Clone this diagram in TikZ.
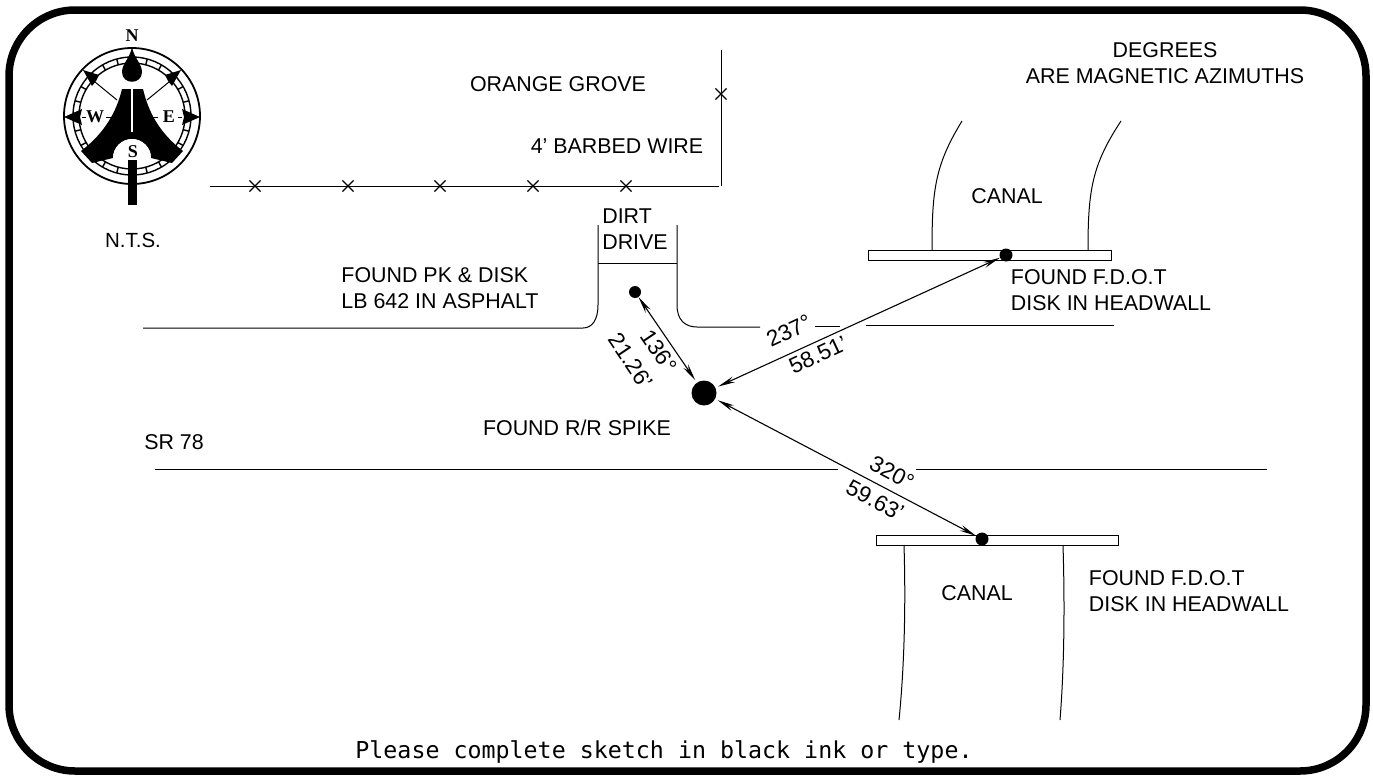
\documentclass[tikz,border=0pt]{standalone}
\usepackage{fontspec}
\setmainfont{Liberation Sans}
\setmonofont{DejaVu Sans Mono}
\newfontfamily\compassfont{Liberation Serif}
\usetikzlibrary{arrows.meta,shapes.misc}
\tikzset{
  label/.style={font=\fontsize{21.4}{25.5}\selectfont,align=left,inner sep=0pt},
  dim/.style={font=\fontsize{22.5}{26}\selectfont,inner sep=0pt},
  line/.style={line width=1pt},
  dot/.style={circle,fill=black,inner sep=0pt,minimum size=#1},
  fencex/.style={cross out,draw,line width=1.1pt,minimum size=10pt,inner sep=0pt},
  compassletter/.style={font=\compassfont\bfseries\fontsize{18}{18}\selectfont,inner sep=0pt},
  leader/.style={line width=1.1pt,{Stealth[length=17pt,width=6pt]}-{Stealth[length=17pt,width=6pt]}}
}
\begin{document}
\begin{tikzpicture}[x=1pt,y=-1pt]
    \useasboundingbox (0,0) rectangle (1373,779);
    \fill [white] (0,0) rectangle (1373,779);
    \draw [line width=7.5pt,rounded corners=66pt] (9,10) rectangle (1366,771);

    \draw [line width=1.8pt] (132,116) circle (68);
    \draw [line width=1.4pt] (132,116) circle (59);
    \draw [line width=1.4pt] (132,116) circle (53);
    \foreach \a in {0,15,...,345}
      \draw [line width=1.4pt] (132,116) ++(\a:53) -- ++(\a:6);
    \draw [line width=1pt] (95,82) -- (117,100);
    \draw [line width=1pt] (169,82) -- (147,100);
    \draw [line width=1pt] (82,117) -- (86,117) (106,117) -- (112,117);
    \draw [line width=1pt] (182,117) -- (178,117) (158,117) -- (152,117);
    \fill (64,117) -- (82,109) -- (80,117) -- (82,125) -- cycle;
    \fill (200,117) -- (182,109) -- (184,117) -- (182,125) -- cycle;
    \fill (83,70) -- (99,75) -- (96,81) -- (92,86) -- cycle;
    \fill (181,70) -- (165,75) -- (168,81) -- (172,86) -- cycle;
    \fill (132,47) .. controls (134,58) and (142,64) .. (142,72) .. controls (142,85) and (122,85) .. (122,72) .. controls (122,64) and (130,58) .. (132,47);
    \fill (122,89) -- (143,89) .. controls (148,110) and (158,132) .. (183,151) -- (172,163) -- (151,158) arc (0:-180:19) -- (92,163) -- (81,151) .. controls (106,132) and (117,110) .. (122,89);
    \fill [white] (113,158) arc (180:360:19) -- cycle;
    \draw [white,line width=1.4pt] (132,88) -- (132,132);
    \fill (128,160) rectangle (137,205);
    \node [compassletter] (n) at (132,36) {N};
    \node [compassletter] (s) at (133,152) {S};
    \node [compassletter] (w) at (95,117) {W};
    \node [compassletter] (e) at (169,117) {E};

    \draw [line] (210,186) -- (719,186);
    \draw [line] (721,186) -- (721,50);
    \foreach \x in {255,348,440,533,626}
      \node [fencex] (x\x) at (\x,186) {};
    \node [fencex] (xv) at (721,94) {};

    \draw [line] (598,225) -- (598,305) .. controls (598,320) and (592,328) .. (583,328) -- (143,328);
    \draw [line] (677,225) -- (677,305) .. controls (677,320) and (685,327) .. (697,327) -- (760,327);
    \draw [line] (598,263) -- (677,263);
    \draw [line] (815,326) -- (840,326);
    \draw [line] (866,325) -- (1114,325);
    \draw [line] (155,469) -- (838,469);
    \draw [line] (916,469) -- (1267,469);

    \draw [line] (868,250) rectangle (1111,260);
    \draw [line] (932,250) .. controls (932,190) and (935,165) .. (962,121);
    \draw [line] (1088,250) .. controls (1088,190) and (1092,165) .. (1121,121);
    \draw [line] (876,535) rectangle (1118,545);
    \draw [line] (904,545) .. controls (906,610) and (904,670) .. (899,720);
    \draw [line] (1063,545) .. controls (1065,610) and (1064,670) .. (1060,720);

    \node [dot=25pt,outer sep=3pt] (spike) at (704,393) {};
    \node [dot=12pt] (pk) at (635,292) {};
    \node [dot=13pt] (fdotn) at (1006,255) {};
    \node [dot=13pt] (fdots) at (982,539) {};
    \draw [leader] (spike) -- (pk);
    \draw [leader] (spike) -- (fdotn);
    \draw [leader] (spike) -- (fdots);

    \node [dim,rotate=25] (b1) at (789,331) {237°};
    \node [dim,rotate=25] (d1) at (818,355) {58.51'};
    \node [dim,rotate=-56] (b2) at (659,351) {136°};
    \node [dim,rotate=-56] (d2) at (631,361) {21.26'};
    \node [dim,rotate=-28] (b3) at (892,473) {320°};
    \node [dim,rotate=-28] (d3) at (875,500) {59.63'};

    \node [label] (grove) at (558,84) {ORANGE GROVE};
    \node [label] (wire) at (617,146) {4' BARBED WIRE};
    \node [label,align=center] (degrees) at (1165,63) {DEGREES\\ARE MAGNETIC AZIMUTHS};
    \node [label,font=\fontsize{20.5}{25}\selectfont] (nts) at (133,240) {N.T.S.};
    \node [label] (drive) at (635,229) {DIRT\\DRIVE};
    \node [label] (pkdisk) at (440,288) {FOUND PK \& DISK\\LB 642 IN ASPHALT};
    \node [label] (canaln) at (1007,196) {CANAL};
    \node [label] (fdotnt) at (1111,290) {FOUND F.D.O.T\\DISK IN HEADWALL};
    \node [label] (spiket) at (577,428) {FOUND R/R SPIKE};
    \node [label] (sr) at (174,442) {SR 78};
    \node [label] (canals) at (977,593) {CANAL};
    \node [label] (fdotst) at (1189,591) {FOUND F.D.O.T\\DISK IN HEADWALL};
    \node [font=\ttfamily\fontsize{23.3}{26}\selectfont,inner sep=0pt] (note) at (664,752) {Please complete sketch in black ink or type.};
  \end{tikzpicture}
\end{document}
